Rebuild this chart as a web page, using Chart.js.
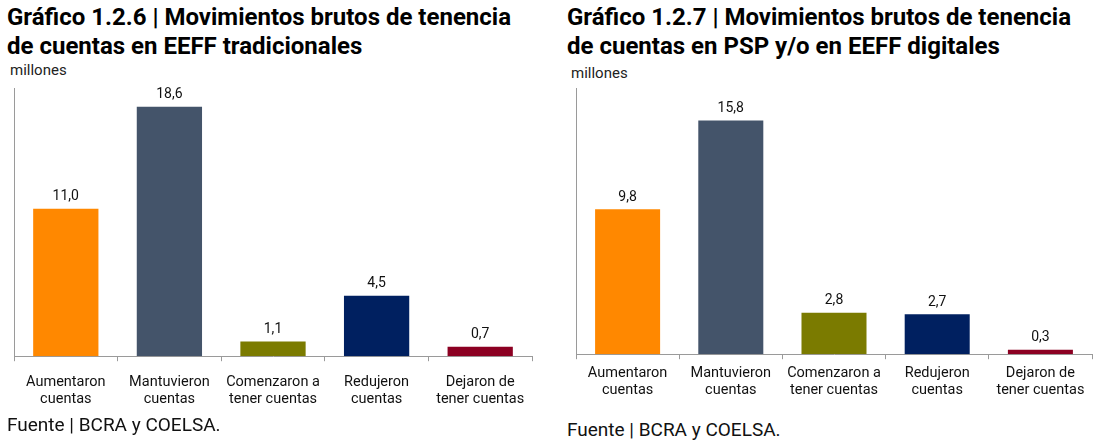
<!DOCTYPE html>
<html lang="es">

<head>
    <meta charset="UTF-8">
    <title>Movimientos brutos de tenencia de cuentas</title>
    <script src="https://cdn.jsdelivr.net/npm/chart.js"></script>
    <style>
        body {
            margin: 0;
            width: 1097px;
            height: 444px;
            background: #fff;
            font-family: Roboto, "Noto Sans", sans-serif;
            position: relative;
            overflow: hidden;
        }

        .titulo {
            position: absolute;
            font-weight: bold;
            font-size: 24px;
            line-height: 29px;
            color: #000;
            white-space: nowrap;
        }

        .unidad {
            position: absolute;
            font-size: 15px;
            color: #222;
        }

        .fuente {
            position: absolute;
            font-size: 19px;
            color: #111;
        }

        .caja {
            position: absolute;
        }
    </style>
</head>

<body>
    <div class="titulo" style="left:7px; top:3px;">Gráfico 1.2.6 | Movimientos brutos de tenencia<br>de cuentas en EEFF tradicionales</div>
    <div class="unidad" style="left:10px; top:61px;">millones</div>
    <div class="caja" style="left:0px; top:80px; width:545px; height:340px;"><canvas id="graf1"></canvas></div>
    <div class="fuente" style="left:7px; top:413px;">Fuente | BCRA y COELSA.</div>

    <div class="titulo" style="left:567px; top:3px;">Gráfico 1.2.7 | Movimientos brutos de tenencia<br>de cuentas en PSP y/o en EEFF digitales</div>
    <div class="unidad" style="left:571px; top:64px;">millones</div>
    <div class="caja" style="left:562px; top:80px; width:535px; height:324px;"><canvas id="graf2"></canvas></div>
    <div class="fuente" style="left:567px; top:418px;">Fuente | BCRA y COELSA.</div>

    <script>
        // datos
        var categorias = [
            ['Aumentaron', 'cuentas'],
            ['Mantuvieron', 'cuentas'],
            ['Comenzaron a', 'tener cuentas'],
            ['Redujeron', 'cuentas'],
            ['Dejaron de', 'tener cuentas']
        ];
        var tradicionales = [11.0, 18.6, 1.1, 4.5, 0.7];
        var digitales = [9.8, 15.8, 2.8, 2.7, 0.3];
        var colores = ['#ff8800', '#44546a', '#7b7b00', '#002060', '#8c0022'];

        // etiquetas de valor arriba de cada barra
        var etiquetas = {
            id: 'etiquetas',
            afterDatasetsDraw: function (chart) {
                var ctx = chart.ctx;
                var meta = chart.getDatasetMeta(0);
                ctx.save();
                ctx.font = '14px Roboto';
                ctx.fillStyle = '#111';
                ctx.textAlign = 'center';
                ctx.textBaseline = 'bottom';
                meta.data.forEach(function (bar, i) {
                    var v = chart.data.datasets[0].data[i];
                    ctx.fillText(v.toFixed(1).replace('.', ','), bar.x, bar.y - 5);
                });
                ctx.restore();
            }
        };

        function crearGrafico(id, valores, maximo, relleno, sepEtiqueta) {
            var ctx = document.getElementById(id).getContext('2d');
            return new Chart(ctx, {
                type: 'bar',
                data: {
                    labels: categorias,
                    datasets: [{
                        data: valores,
                        backgroundColor: colores,
                        categoryPercentage: 1,
                        barPercentage: 0.63
                    }]
                },
                options: {
                    responsive: true,
                    maintainAspectRatio: false,
                    animation: false,
                    layout: { padding: relleno },
                    plugins: {
                        legend: { display: false },
                        tooltip: { enabled: false }
                    },
                    scales: {
                        x: {
                            grid: {
                                display: true,
                                drawOnChartArea: false,
                                drawTicks: true,
                                tickLength: 5,
                                color: '#9a9a9a',
                                offset: true
                            },
                            border: { display: true, color: '#9a9a9a' },
                            ticks: {
                                color: '#111',
                                font: { family: 'Roboto', size: 14.5 },
                                maxRotation: 0,
                                padding: sepEtiqueta
                            }
                        },
                        y: {
                            min: 0,
                            max: maximo,
                            grid: { display: false, drawTicks: false },
                            border: { display: true, color: '#9a9a9a' },
                            ticks: { display: false }
                        }
                    }
                },
                plugins: [etiquetas]
            });
        }

        crearGrafico('graf1', tradicionales, 20, { left: 14, top: 8, right: 13, bottom: 0 }, 12);
        crearGrafico('graf2', digitales, 18, { left: 14, top: 8, right: 5, bottom: 0 }, 5);
    </script>
</body>

</html>
